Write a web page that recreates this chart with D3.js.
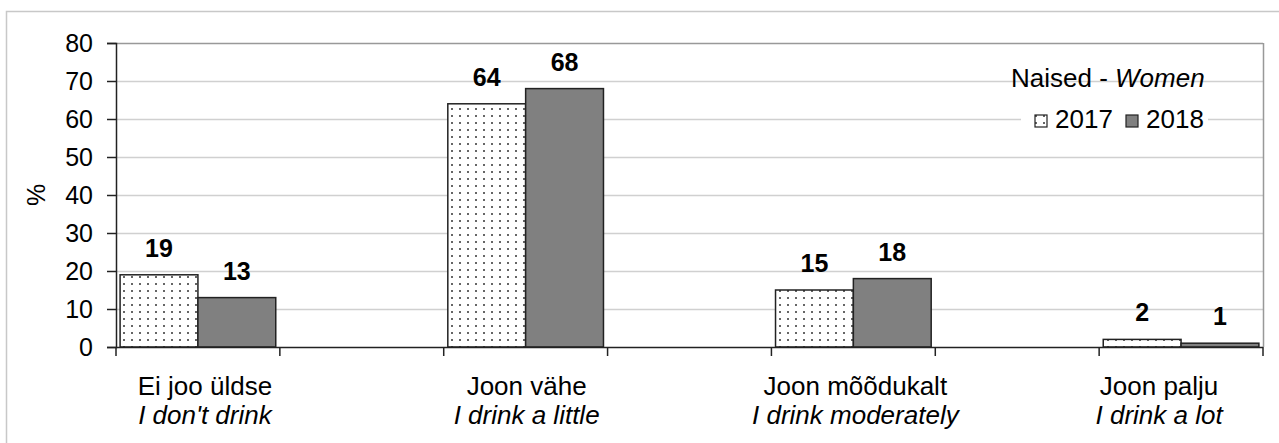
<!DOCTYPE html>
<html>
<head>
<meta charset="utf-8">
<title></title>
<style type="text/css">
  body { margin: 0; background: #fff; }
  text { font-family: "Liberation Sans", Arial, sans-serif; fill: #000; }
</style>
<script src="https://cdn.jsdelivr.net/npm/d3@7"></script>
</head>
<body>
<svg width="1279" height="443"></svg>
<script>
// categories (Estonian / English), with empty slots between them like the original
var categories = ["Ei joo üldse", "Joon vähe", "Joon mõõdukalt", "Joon palju"];
var categoriesEn = ["I don't drink", "I drink a little", "I drink moderately", "I drink a lot"];
var slots = ["c0", "gap1", "c1", "gap2", "c2", "gap3", "c3"];
var years = ["2017", "2018"];
var values2017 = [19, 64, 15, 2];
var values2018 = [13, 68, 18, 1];
var yTicks = [0, 10, 20, 30, 40, 50, 60, 70, 80];

var svg = d3.select("svg");
var plotL = 116, plotR = 1263, plotT = 43, plotB = 347;
// the original's category labels sit a little off their band centres
var labelDx = [7, 1, 2, -22];

// outer frame
svg.append("rect")
  .attr("x", 6.5).attr("y", 11.5)
  .attr("width", 1290).attr("height", 450)
  .attr("fill", "none").attr("stroke", "#c8c8c8").attr("stroke-width", 1.5);

var x = d3.scaleBand().domain(slots).range([plotL, plotR])
  .paddingInner(0.05).paddingOuter(0.025);
var y = d3.scaleLinear().domain([0, 80]).range([plotB, plotT]);

// dotted fill for 2017
var defs = svg.append("defs");
var pat = defs.append("pattern").attr("id", "dots")
  .attr("patternUnits", "userSpaceOnUse")
  .attr("width", 8).attr("height", 7);
pat.append("rect").attr("width", 8).attr("height", 7).attr("fill", "#fff");
pat.append("rect").attr("x", 3).attr("y", 3).attr("width", 2).attr("height", 2).attr("fill", "#666");

// gridlines
svg.append("g").selectAll("line")
  .data(yTicks.filter(function(d){ return d > 0; }))
  .enter().append("line")
  .attr("x1", plotL).attr("x2", plotR)
  .attr("y1", function(d){ return y(d) + 0.5; })
  .attr("y2", function(d){ return y(d) + 0.5; })
  .attr("stroke", function(d){ return d == 80 ? "#999" : "#d0d0d0"; })
  .attr("stroke-width", 1.5);

// plot area right border
svg.append("line")
  .attr("x1", plotR + 0.5).attr("x2", plotR + 0.5)
  .attr("y1", plotT).attr("y2", plotB)
  .attr("stroke", "#999").attr("stroke-width", 1.5);

// y axis
var yAxis = d3.axisLeft(y).tickValues(yTicks).tickSize(9).tickPadding(14);
var gy = svg.append("g").attr("transform", "translate(" + plotL + ",0)").call(yAxis);
gy.select(".domain").attr("stroke", "#222").attr("stroke-width", 1.5);
gy.selectAll(".tick line").attr("stroke", "#222").attr("stroke-width", 1.5);
gy.selectAll("text").attr("font-size", 25).attr("font-family", "Liberation Sans, Arial").attr("fill", "#000");

svg.append("text")
  .attr("transform", "translate(45," + ((plotT + plotB) / 2) + ") rotate(-90)")
  .attr("text-anchor", "middle")
  .attr("font-size", 25)
  .text("%");

// bars
var rows = [];
categories.forEach(function(c, i){
  rows.push({slot: "c" + i, year: "2017", v: values2017[i]});
  rows.push({slot: "c" + i, year: "2018", v: values2018[i]});
});
var xs = d3.scaleBand().domain(years).range([0, x.bandwidth()]);

var bars = svg.append("g");
bars.selectAll("rect").data(rows).enter().append("rect")
  .attr("x", function(d){ return x(d.slot) + xs(d.year); })
  .attr("y", function(d){ return y(d.v); })
  .attr("width", xs.bandwidth())
  .attr("height", function(d){ return y(0) - y(d.v); })
  .attr("fill", function(d){ return d.year == "2017" ? "url(#dots)" : "#808080"; })
  .attr("stroke", "#222").attr("stroke-width", 1.5);

bars.selectAll("text").data(rows).enter().append("text")
  .attr("x", function(d){ return x(d.slot) + xs(d.year) + xs.bandwidth() / 2; })
  .attr("y", function(d){ return y(d.v) - 18; })
  .attr("text-anchor", "middle")
  .attr("font-size", 25).attr("font-weight", "bold")
  .text(function(d){ return d.v; });

// x axis with ticks between slots
var step = x.step();
svg.append("line")
  .attr("x1", plotL).attr("x2", plotR)
  .attr("y1", plotB + 0.5).attr("y2", plotB + 0.5)
  .attr("stroke", "#222").attr("stroke-width", 1.5);
svg.append("g").selectAll("line")
  .data(d3.range(slots.length + 1))
  .enter().append("line")
  .attr("x1", function(i){ return plotL + i * step; })
  .attr("x2", function(i){ return plotL + i * step; })
  .attr("y1", plotB).attr("y2", plotB + 9)
  .attr("stroke", "#222").attr("stroke-width", 1.5);

var labs = svg.append("g");
categories.forEach(function(c, i){
  var cx = x("c" + i) + x.bandwidth() / 2 + labelDx[i];
  labs.append("text").attr("x", cx).attr("y", 395)
    .attr("text-anchor", "middle").attr("font-size", 26).text(c);
  labs.append("text").attr("x", cx).attr("y", 424)
    .attr("text-anchor", "middle").attr("font-size", 26)
    .attr("font-style", "italic").text(categoriesEn[i]);
});

// legend
var lg = svg.append("g");
var t = lg.append("text").attr("x", 1011).attr("y", 87).attr("font-size", 26);
t.append("tspan").text("Naised - ");
t.append("tspan").attr("font-style", "italic").text("Women");

lg.append("rect").attr("x", 1021).attr("y", 105).attr("width", 187).attr("height", 30).attr("fill", "#fff");
var legX = [1035, 1126];
years.forEach(function(yr, i){
  lg.append("rect").attr("x", legX[i]).attr("y", 115).attr("width", 12).attr("height", 12)
    .attr("fill", i == 0 ? "url(#dots)" : "#808080")
    .attr("stroke", "#222").attr("stroke-width", 1.2);
  lg.append("text").attr("x", legX[i] + 20).attr("y", 128).attr("font-size", 26).text(yr);
});
</script>
</body>
</html>
